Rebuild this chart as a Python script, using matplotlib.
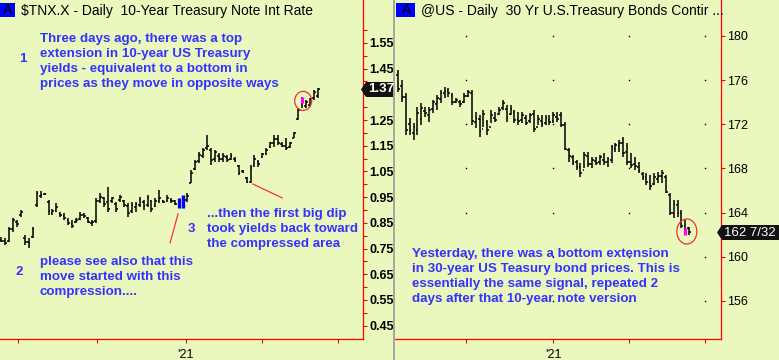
import matplotlib
matplotlib.use("Agg")
import matplotlib.pyplot as plt
import numpy as np
from matplotlib.patches import Rectangle, Polygon, Ellipse
from matplotlib.lines import Line2D
from matplotlib.transforms import ScaledTranslation

plt.rcParams['font.family'] = ['Liberation Sans', 'DejaVu Sans']

# ---------------- data: 10-year note yield ($TNX.X) ----------------
tnx_high = [0.795, 0.791, 0.834, 0.869, 0.861, 0.900, 0.803, 0.791, 0.834, 0.974,
            0.974, 0.966, 0.939, 0.904, 0.927, 0.892, 0.889, 0.869, 0.861, 0.869,
            0.892, 0.889, 0.873, 0.861, 0.947, 0.966, 0.951, 0.990, 0.951, 0.931,
            0.959, 0.939, 0.927, 0.931, 0.931, 0.951, 0.939, 0.959, 0.939, 0.947,
            0.978, 0.939, 0.959, 0.947, 0.939, 0.947, 0.959, 0.966, 1.056, 1.095,
            1.126, 1.142, 1.192, 1.142, 1.134, 1.122, 1.122, 1.114, 1.122, 1.107,
            1.075, 1.056, 1.029, 1.075, 1.114, 1.095, 1.122, 1.142, 1.165, 1.192,
            1.192, 1.165, 1.180, 1.165, 1.204, 1.297, 1.340, 1.328, 1.336, 1.367,
            1.375]
tnx_low = [0.776, 0.764, 0.776, 0.815, 0.834, 0.873, 0.764, 0.752, 0.791, 0.912,
           0.947, 0.959, 0.881, 0.881, 0.892, 0.873, 0.861, 0.842, 0.830, 0.850,
           0.861, 0.869, 0.850, 0.838, 0.850, 0.927, 0.912, 0.892, 0.927, 0.892,
           0.931, 0.912, 0.873, 0.889, 0.892, 0.912, 0.900, 0.912, 0.892, 0.912,
           0.927, 0.927, 0.931, 0.927, 0.920, 0.908, 0.908, 0.931, 1.005, 1.056,
           1.083, 1.103, 1.134, 1.075, 1.087, 1.087, 1.087, 1.087, 1.095, 1.087,
           1.037, 1.044, 1.005, 1.005, 1.068, 1.068, 1.103, 1.114, 1.142, 1.145,
           1.153, 1.145, 1.134, 1.142, 1.180, 1.250, 1.297, 1.297, 1.301, 1.328,
           1.336]
tnx_open = [0.785, 0.780, 0.780, 0.825, 0.855, 0.880, 0.790, 0.775, 0.795, 0.920,
            0.955, 0.962, 0.930, 0.890, 0.900, 0.885, 0.878, 0.862, 0.845, 0.852,
            0.865, 0.880, 0.870, 0.850, 0.858, 0.935, 0.945, 0.930, 0.935, 0.925,
            0.940, 0.935, 0.915, 0.895, 0.910, 0.920, 0.930, 0.920, 0.935, 0.915,
            0.935, 0.935, 0.935, 0.940, 0.935, 0.915, 0.915, 0.940, 1.005, 1.060,
            1.090, 1.110, 1.140, 1.135, 1.100, 1.110, 1.100, 1.105, 1.100, 1.100,
            1.070, 1.050, 1.025, 1.010, 1.075, 1.085, 1.105, 1.118, 1.145, 1.160,
            1.175, 1.158, 1.150, 1.145, 1.182, 1.255, 1.340, 1.305, 1.310, 1.335,
            1.345]
tnx_close = [0.780, 0.772, 0.825, 0.860, 0.845, 0.892, 0.775, 0.770, 0.825, 0.965,
             0.960, 0.962, 0.895, 0.895, 0.910, 0.880, 0.870, 0.850, 0.838, 0.862,
             0.880, 0.875, 0.855, 0.855, 0.935, 0.950, 0.925, 0.905, 0.945, 0.905,
             0.950, 0.920, 0.890, 0.920, 0.925, 0.940, 0.915, 0.945, 0.905, 0.935,
             0.945, 0.930, 0.945, 0.935, 0.925, 0.950, 0.950, 0.955, 1.045, 1.085,
             1.115, 1.135, 1.150, 1.095, 1.125, 1.100, 1.110, 1.095, 1.110, 1.090,
             1.045, 1.048, 1.010, 1.065, 1.100, 1.080, 1.118, 1.135, 1.160, 1.175,
             1.160, 1.150, 1.140, 1.160, 1.198, 1.290, 1.317, 1.320, 1.330, 1.360,
             1.370]
tnx_blue_bars = [45, 46]        # compression bars
tnx_signal_bar = 76             # top extension bar
tnx_last = "1.37"
tnx_major = [0.45, 0.55, 0.65, 0.75, 0.85, 0.95, 1.05, 1.15, 1.25, 1.35, 1.45, 1.55]
tnx_major_labels = ["0.45", "0.55", "0.65", "0.75", "0.85", "0.95", "1.05", "1.15",
                    "1.25", "", "1.45", "1.55"]   # 1.35 hidden under the last-value tag
tnx_minor = [0.50, 0.60, 0.70, 0.80, 0.90, 1.00, 1.10, 1.20, 1.30, 1.40, 1.50, 1.60]
tnx_month_ticks = [4.3, 24.2, 46.7, 65.9, 85.1]
tnx_month_labels = ["", "", "'21", "", ""]

# ---------------- data: 30-year bond (@US) ----------------
us_high = [176.92, 176.01, 174.84, 172.57, 172.12, 173.57, 173.93, 173.57, 173.57, 174.20,
           174.66, 175.11, 175.38, 175.29, 174.84, 174.38, 174.20, 174.84, 175.11, 175.11,
           173.12, 172.84, 173.30, 172.39, 173.30, 173.12, 173.57, 174.20, 173.75, 173.75,
           173.30, 173.12, 173.12, 172.84, 173.03, 173.30, 172.84, 172.84, 172.84, 172.84,
           173.12, 173.12, 173.12, 172.21, 169.86, 169.22, 168.77, 168.50, 169.49, 169.49,
           169.04, 169.04, 169.22, 169.40, 169.04, 170.13, 170.31, 170.58, 170.85, 170.31,
           169.40, 169.04, 168.59, 167.68, 167.59, 167.41, 167.59, 167.68, 167.86, 167.41,
           165.78, 165.14, 165.14, 164.24, 163.33, 162.70]
us_low = [174.93, 174.02, 171.03, 171.03, 170.58, 171.03, 171.94, 172.66, 172.21, 173.03,
          173.30, 173.93, 174.38, 174.47, 173.75, 173.93, 173.57, 173.93, 174.47, 171.94,
          171.67, 170.85, 171.76, 171.03, 172.12, 172.21, 172.84, 173.30, 172.21, 172.84,
          172.12, 171.94, 172.12, 171.94, 172.12, 171.30, 171.94, 171.76, 171.94, 171.94,
          172.12, 172.21, 171.76, 169.67, 168.59, 168.32, 167.86, 167.23, 168.04, 168.13,
          168.04, 168.32, 168.32, 168.32, 168.13, 168.50, 169.49, 169.49, 169.04, 168.32,
          168.04, 167.86, 167.59, 166.96, 166.50, 166.05, 166.50, 166.68, 166.68, 165.78,
          163.79, 163.51, 163.61, 162.61, 161.97, 161.97]
us_open = [176.5, 175.5, 174.5, 172.0, 171.2, 171.5, 172.5, 173.2, 172.8, 173.4,
           173.8, 174.3, 174.8, 175.0, 174.6, 174.0, 174.0, 174.0, 174.6, 174.8,
           172.2, 172.5, 171.6, 172.2, 171.8, 172.6, 172.9, 173.5, 173.4, 172.9,
           173.1, 172.5, 172.4, 172.6, 172.3, 172.9, 171.8, 172.3, 172.1, 172.4,
           172.3, 172.7, 172.8, 171.9, 169.7, 169.0, 168.6, 168.1, 167.9, 169.1,
           168.4, 168.7, 168.6, 168.8, 168.6, 168.8, 169.8, 170.0, 170.3, 169.5,
           168.6, 168.4, 168.1, 167.5, 167.2, 166.8, 166.6, 167.0, 167.3, 167.2,
           165.6, 164.0, 164.7, 164.0, 162.61, 162.6]
us_close = [175.2, 174.5, 171.5, 171.5, 171.8, 173.0, 173.5, 173.0, 173.3, 174.0,
            174.4, 174.8, 175.0, 174.8, 174.0, 174.2, 173.8, 174.6, 174.9, 172.3,
            172.6, 171.4, 172.9, 171.5, 172.8, 172.4, 173.3, 173.9, 172.6, 173.4,
            172.4, 172.3, 172.8, 172.1, 172.8, 171.6, 172.5, 172.0, 172.6, 172.2,
            172.8, 172.5, 171.9, 169.8, 169.1, 168.6, 168.1, 167.6, 169.2, 168.4,
            168.8, 168.5, 169.0, 168.6, 168.9, 169.9, 170.1, 170.3, 169.4, 168.6,
            168.3, 168.2, 167.8, 167.2, 166.8, 166.4, 167.2, 167.3, 167.6, 165.9,
            164.0, 164.8, 164.0, 162.8, 161.97, 162.22]
us_signal_bar = 74              # bottom extension bar
us_last = "162 7/32"
us_major = [156, 160, 164, 168, 172, 176, 180]
us_month_ticks = [17.5, 40.0, 59.5, 79.1]
us_month_labels = ["", "'21", "", ""]

# ---------------- styling ----------------
W, H = 779, 360
BG = '#eaf8be'
RED = '#ff0000'
TXT_BLUE = '#3333ff'
TXT_SIZE = 9.6

fig = plt.figure(figsize=(W / 100, H / 100), dpi=100, facecolor=BG)


def fbox(x0, y0, x1, y1):
    return [x0 / W, 1 - y1 / H, (x1 - x0) / W, (y1 - y0) / H]


def fx(x):
    return x / W


def fy(y):
    return 1 - y / H


def style_axes(ax, label_weight):
    ax.set_facecolor(BG)
    for s in ('top', 'left'):
        ax.spines[s].set_visible(False)
    for s in ('right', 'bottom'):
        ax.spines[s].set_color(RED)
        ax.spines[s].set_linewidth(0.9)
    ax.yaxis.tick_right()
    ax.tick_params(axis='both', which='both', colors=RED, length=3, width=0.8,
                   labelcolor='black', labelsize=9, pad=1.5)
    ax.tick_params(axis='x', pad=4.5)
    for lab in ax.get_yticklabels():
        lab.set_fontweight(label_weight)


def draw_ohlc(ax, hi, lo, op, cl, skip=(), lw=1.1, tick=0.45):
    x = np.arange(len(hi))
    keep = [i for i in x if i not in skip]
    ax.vlines(x[keep], np.array(lo)[keep], np.array(hi)[keep], color='black', lw=lw, zorder=3)
    ax.hlines(np.array(op)[keep], x[keep] - tick, x[keep], color='black', lw=lw, zorder=3)
    ax.hlines(np.array(cl)[keep], x[keep], x[keep] + tick, color='black', lw=lw, zorder=3)


def circle_at(ax, x, y, w_px, h_px):
    tr = fig.dpi_scale_trans + ScaledTranslation(x, y, ax.transData)
    e = Ellipse((0, 0), w_px / 100, h_px / 100, transform=tr, fill=False,
                edgecolor='#f03030', lw=0.9, zorder=5)
    ax.add_artist(e)


# ---------------- left panel ----------------
axL = fig.add_axes(fbox(0, 0, 363, 339))
axL.set_xlim(-0.25, 91.4)
axL.set_ylim(0.398, 1.717)
draw_ohlc(axL, tnx_high, tnx_low, tnx_open, tnx_close, skip=tnx_blue_bars + [tnx_signal_bar])
for i in tnx_blue_bars:
    axL.vlines(i, tnx_low[i], tnx_high[i], color='#0000ff', lw=2.4, zorder=3)
i = tnx_signal_bar
axL.vlines(i, tnx_low[i], tnx_high[i], color='black', lw=1.1, zorder=3)
axL.vlines(i, tnx_close[i], tnx_open[i], color='#ff00ff', lw=2.4, zorder=4)
circle_at(axL, i + 0.3, (tnx_open[i] + tnx_close[i]) / 2 - 0.004, 17, 19)

axL.set_yticks(tnx_major)
axL.set_yticklabels(tnx_major_labels)
axL.set_yticks(tnx_minor, minor=True)
axL.set_xticks(tnx_month_ticks)
axL.set_xticklabels(tnx_month_labels)
style_axes(axL, 'bold')

# annotation pointer lines (left)
axL.plot([44.7, 42.7], [0.885, 0.772], color='#ff3030', lw=0.9, zorder=4)
axL.plot([63.6, 71.0], [1.001, 0.947], color='#ff3030', lw=0.9, zorder=4)

# ---------------- right panel ----------------
fig.add_artist(Rectangle((fx(393), 0), fx(779 - 393), 1, transform=fig.transFigure,
                         facecolor=BG, edgecolor='none', zorder=1))
axR = fig.add_axes(fbox(395, 0, 721, 339))
axR.set_zorder(2)
axR.set_xlim(-0.77, 83.2)
axR.set_ylim(152.55, 183.26)
draw_ohlc(axR, us_high, us_low, us_open, us_close, skip=[us_signal_bar])
j = us_signal_bar
axR.vlines(j, us_low[j], us_high[j], color='black', lw=1.1, zorder=3)
axR.vlines(j, us_low[j], us_open[j], color='#ff00ff', lw=2.4, zorder=4)
circle_at(axR, j + 0.4, (us_low[j] + us_open[j]) / 2, 20, 25)

axR.set_yticks(us_major)
axR.set_yticklabels([str(v) for v in us_major])
axR.set_xticks(us_month_ticks)
axR.set_xticklabels(us_month_labels)
style_axes(axR, 'normal')
gx, gy = np.meshgrid(us_month_ticks, us_major)
axR.plot(gx.ravel(), gy.ravel(), linestyle='none', marker='s', markersize=1.0,
         color='black', markeredgewidth=0, zorder=2)

fig.add_artist(Line2D([fx(394), fx(394)], [0, 1], transform=fig.transFigure,
                      color='#9a9a9a', lw=1.2, zorder=6))

# ---------------- headers ----------------
for x0, x1, title, tx in [(-4, 15, "$TNX.X - Daily  10-Year Treasury Note Int Rate", 21),
                          (396, 415, "@US - Daily  30 Yr U.S.Treasury Bonds Contir ...", 421)]:
    fig.add_artist(Rectangle((fx(x0), fy(17)), fx(x1 - x0), 14 / H, transform=fig.transFigure,
                             facecolor='#0000ff', edgecolor='none', zorder=7))
    fig.text(fx((max(x0, 0) + x1) / 2 + (1 if x0 > 0 else 0)), fy(10), "A", ha='center', va='center',
             fontsize=10, color='black', zorder=8)
    fig.text(fx(tx), fy(10.5), title, ha='left', va='center', fontsize=10, color='black', zorder=8)

# last-value tags
for (xl, xr, yc, label, weight) in [(361, 393, 89.5, tnx_last, 'bold'),
                                    (717, 779, 232.5, us_last, 'normal')]:
    pts = [(fx(xl), fy(yc)), (fx(xl + 5), fy(yc - 7.5)), (fx(xr), fy(yc - 7.5)),
           (fx(xr), fy(yc + 7.5)), (fx(xl + 5), fy(yc + 7.5))]
    fig.add_artist(Polygon(pts, closed=True, transform=fig.transFigure, facecolor='#111111',
                           edgecolor='none', zorder=7))
    fig.text(fx(xl + 7), fy(yc), label, ha='left', va='center', fontsize=9.5,
             color='white', fontweight=weight, zorder=8)

# ---------------- commentary ----------------
def para(x, ys, lines):
    for y, t in zip(ys, lines):
        fig.text(fx(x), fy(y), t, ha='left', va='center', fontsize=TXT_SIZE,
                 fontweight='bold', color=TXT_BLUE, zorder=8)


para(40, [39, 54, 69, 84], ["Three days ago, there was a top",
                            "extension in 10-year US Treasury",
                            "yields - equivalent to a bottom in",
                            "prices as they move in opposite ways"])
para(19, [59], ["1"])
para(15, [272], ["2"])
para(40, [262, 277, 292], ["please see also that this",
                           "move started with this",
                           "compression...."])
para(207, [214, 229, 244], ["...then the first big dip",
                            "took yields back toward",
                            "the compressed area"])
para(188, [229], ["3"])
para(412, [254, 269, 284, 299], ["Yesterday, there was a bottom extension",
                                 "in 30-year US Teasury bond prices. This is",
                                 "essentially the same signal, repeated 2",
                                 "days after that 10-year note version"])

fig.savefig("out.png", dpi=100, facecolor=BG)
